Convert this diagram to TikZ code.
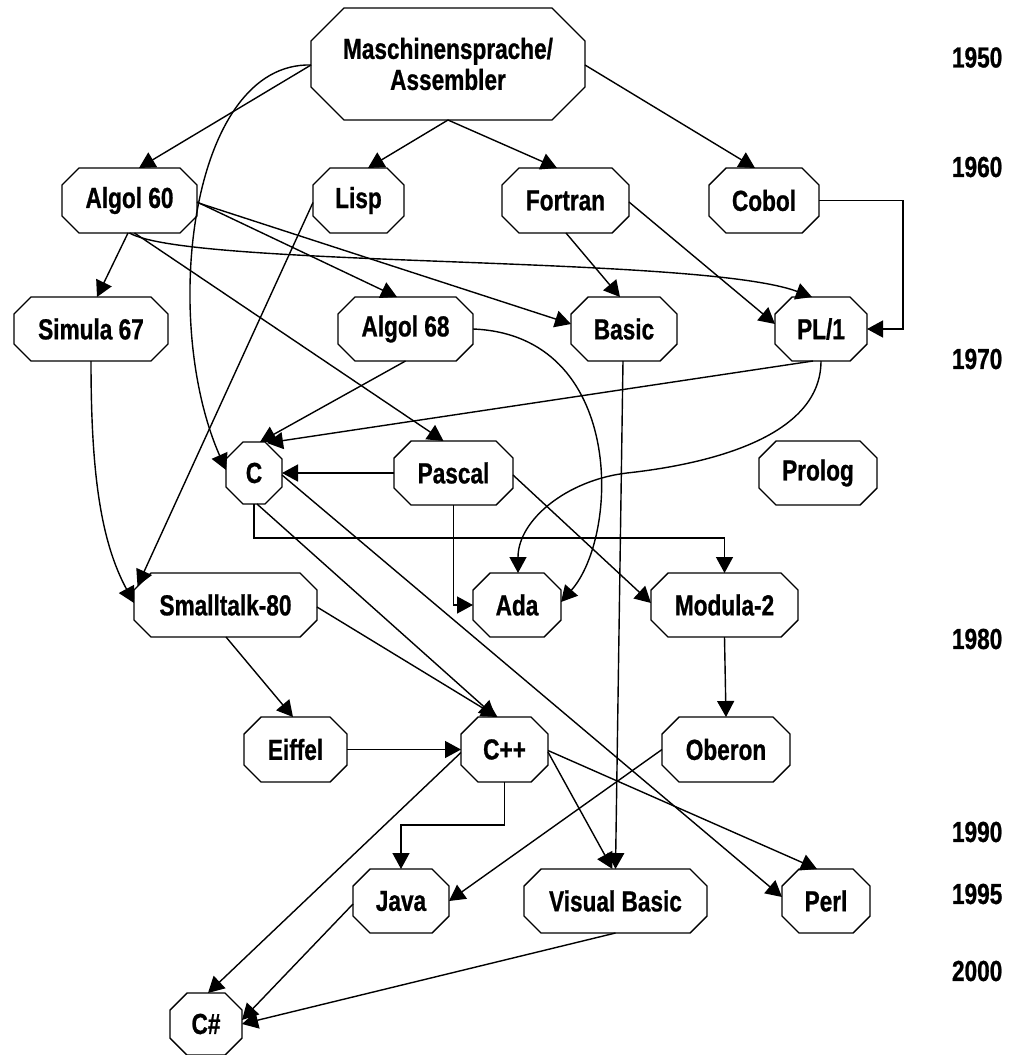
\documentclass[tikz,border=0pt]{standalone}
\usepackage{fontspec}
\setmainfont{Liberation Sans}[FakeStretch=0.78, BoldFeatures={FakeBold=0.8}]
\usetikzlibrary{calc,arrows.meta}
\tikzset{
  langtext/.style={rectangle, inner sep=0pt, outer sep=0pt, align=center,
    font=\bfseries\fontsize{29}{31}\selectfont},
  langline/.style={line width=1.4pt, line join=miter},
  link/.style={line width=1.4pt, -{Triangle[length=16pt,width=17pt]}},
  yearlabel/.style={anchor=west, inner sep=0pt, outer sep=0pt,
    font=\bfseries\fontsize{29}{31}\selectfont},
}
\newcommand\lang[7][17]{%
  \node[langtext, minimum width=#5pt, minimum height=#6pt] (#2) at (#3,#4) {#7};
  \draw[langline] ([xshift=#1pt]#2.north west) -- ([xshift=-#1pt]#2.north east)
    -- ([yshift=-#1pt]#2.north east) -- ([yshift=#1pt]#2.south east)
    -- ([xshift=-#1pt]#2.south east) -- ([xshift=#1pt]#2.south west)
    -- ([yshift=#1pt]#2.south west) -- ([yshift=-#1pt]#2.north west) -- cycle;
}
\begin{document}
\begin{tikzpicture}[x=1pt,y=-1pt]
\useasboundingbox (0,0) rectangle (1012,1055);
% languages
\lang[33]{M}{448}{64}{274}{112}{Maschinensprache/\\Assembler}
\lang{alg60}{129.5}{200.5}{135}{65}{Algol 60}
\lang{lisp}{358.5}{200.5}{91}{65}{Lisp}
\lang{fortran}{565.5}{200.5}{127}{65}{Fortran}
\lang{cobol}{764}{200.5}{110}{65}{Cobol}
\lang{simula}{91}{329}{154}{64}{Simula 67}
\lang{alg68}{405.5}{329}{135}{64}{Algol 68}
\lang{basic}{624}{329}{106}{64}{Basic}
\lang{pl1}{821}{329}{92}{64}{PL/1}
\lang{c}{254}{473}{56}{62}{C}
\lang{pascal}{453.5}{473}{119}{64}{Pascal}
\lang{prolog}{818}{473}{118}{64}{Prolog}
\lang{small}{225.5}{605}{183}{64}{Smalltalk-80}
\lang{ada}{517}{605}{88}{64}{Ada}
\lang{modula}{724.5}{605}{147}{64}{Modula-2}
\lang{eiffel}{295.5}{749.5}{103}{65}{Eiffel}
\lang{cpp}{504.5}{749.5}{87}{65}{C++}
\lang{oberon}{726}{749.5}{128}{65}{Oberon}
\lang{java}{401}{901}{96}{64}{Java}
\lang{vb}{615.5}{901}{183}{64}{Visual Basic}
\lang{perl}{826}{901}{88}{64}{Perl}
\lang{csharp}{206}{1024}{72}{62}{C\#}
% years
\node[yearlabel] (y1950) at (952,57.5) {1950};
\node[yearlabel] (y1960) at (952,167) {1960};
\node[yearlabel] (y1970) at (952,359) {1970};
\node[yearlabel] (y1980) at (952,639) {1980};
\node[yearlabel] (y1990) at (952,832) {1990};
\node[yearlabel] (y1995) at (952,894) {1995};
\node[yearlabel] (y2000) at (952,971) {2000};
% connectors
\draw[link] ($(M)+(-137,1)$) -- ($(alg60)+(9.5,-32.5)$);
\draw[link] ($(M)+(-137,1)$) .. controls (190,62) and (160,320) .. ($(c)+(-28,-3)$);
\draw[link] ($(M)+(0,56)$) -- ($(lisp)+(9.5,-32.5)$);
\draw[link] ($(M)+(0,56)$) -- ($(fortran)+(-8.5,-32.5)$);
\draw[link] ($(M)+(137,1)$) -- ($(cobol)+(-9,-32.5)$);
\draw[link] ($(alg60)+(-1.5,32.5)$) -- ($(simula)+(6,-32)$);
\draw[link] ($(alg60)+(67.5,1.5)$) -- ($(alg68)+(-8.5,-32)$);
\draw[link] ($(alg60)+(67.5,2)$) -- ($(basic)+(-53,-5)$);
\draw[link] ($(alg60)+(0,32.5)$) .. controls (190,268) and (700,255) .. ($(pl1)+(-9,-32)$);
\draw[link] ($(alg60)+(5,32.5)$) -- ($(pascal)+(-10,-32)$);
\draw[link] ($(fortran)+(0.5,32.5)$) -- ($(basic)+(-4,-32)$);
\draw[link] ($(fortran)+(63.5,1.5)$) -- ($(pl1)+(-46,-5)$);
\draw[link] (cobol.east) -- ++(84,0) |- (pl1.east);
\draw[link] ($(alg68)+(0,32)$) -- ($(c)+(6,-31)$);
\draw[link] (alg68.east) .. controls (625,335) and (620,535) .. ($(ada)+(44,-3)$);
\draw[link] ($(pl1)+(-8,32)$) -- ($(c)+(13,-30)$);
\draw[link] ($(pl1)+(0,32)$) .. controls (821,440) and (700,465) .. (627,473)
  .. controls (567,480) and (518,520) .. ($(ada)+(1,-32)$);
\draw[link] (pascal.west) -- (c.east);
\draw[link] (pascal.south) |- (ada.west);
\draw[link] ($(pascal)+(59.5,2)$) -- ($(modula)+(-73.5,-2)$);
\draw[link] (c.south) -- ++(0,34) -| (modula.north);
\draw[link] ($(c)+(3,31)$) -- ($(cpp)+(-9,-32.5)$);
\draw[link] ($(c)+(28,2)$) -- ($(perl)+(-44,-4)$);
\draw[link] ($(basic)+(-1,32)$) -- ($(vb)+(0,-32)$);
\draw[link] ($(lisp)+(-45.5,2)$) -- ($(small)+(-88,-19)$);
\draw[link] (simula.south) .. controls (91,470) and (100,540) .. ($(small)+(-91.5,-2)$);
\draw[link] ($(small)+(0.5,32)$) -- ($(eiffel)+(-2.5,-32.5)$);
\draw[link] ($(small)+(91.5,2)$) -- ($(cpp)+(-7,-32.5)$);
\draw[link] (eiffel.east) -- (cpp.west);
\draw[link] (modula.south) -- (oberon.north);
\draw[link] (cpp.south) -- ++(0,43) -| (java.north);
\draw[link] ($(cpp)+(43.5,2.5)$) -- ($(vb)+(-3,-32)$);
\draw[link] ($(cpp)+(43.5,1)$) -- ($(perl)+(-9,-32)$);
\draw[link] ($(cpp)+(-43.5,3)$) -- ($(csharp)+(2,-31)$);
\draw[link] (oberon.west) -- (java.east);
\draw[link] ($(java)+(-48,3)$) -- ($(csharp)+(36,-4)$);
\draw[link] (vb.south) -- ($(csharp)+(36,0)$);
\end{tikzpicture}
\end{document}
